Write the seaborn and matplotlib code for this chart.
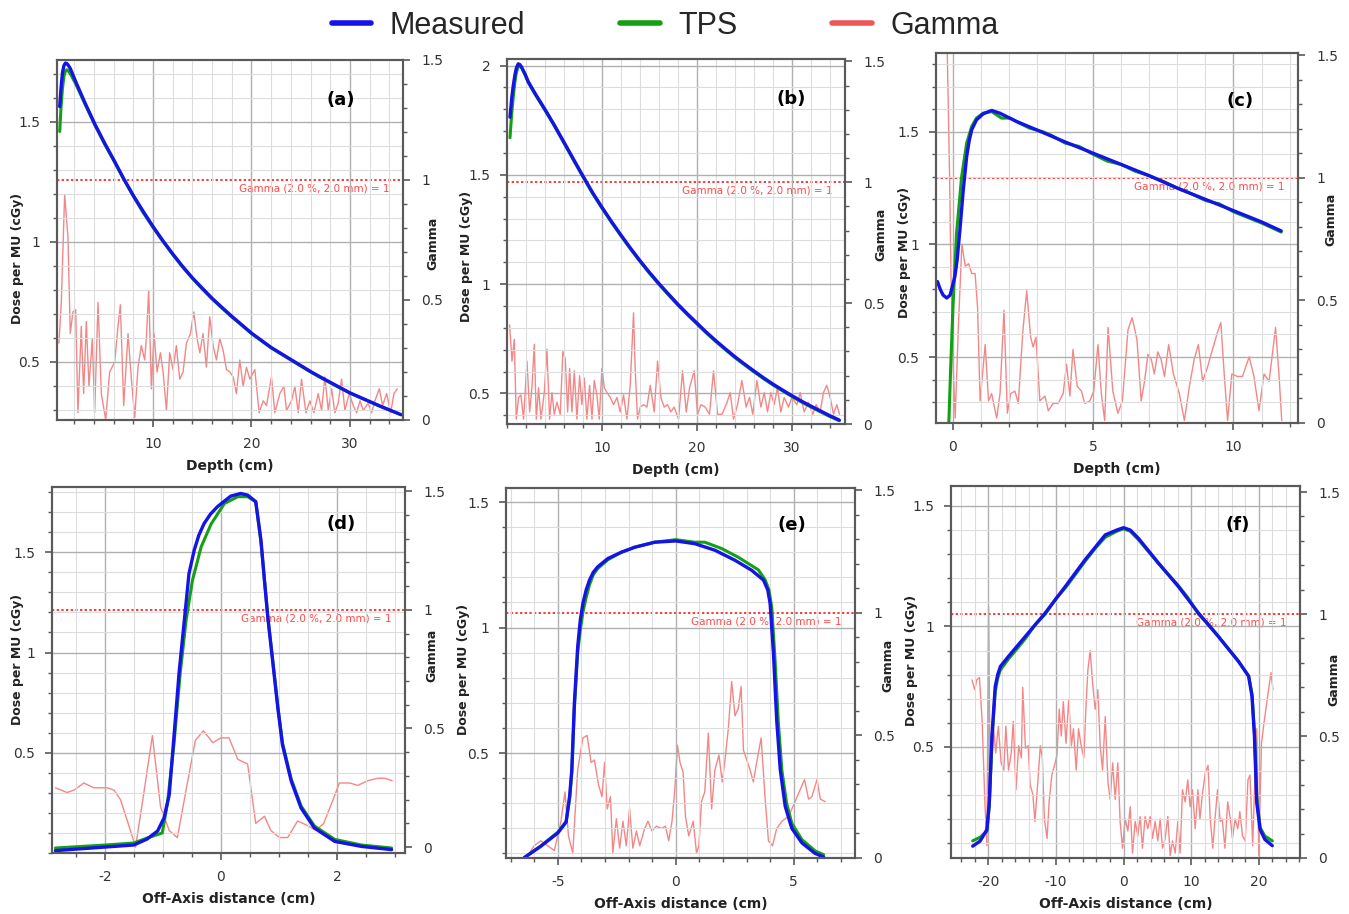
import matplotlib
matplotlib.use("Agg")
import matplotlib.pyplot as plt
import matplotlib.transforms as mtrans
from matplotlib.lines import Line2D
from matplotlib.ticker import MultipleLocator, FixedLocator, FuncFormatter
import seaborn as sns

# ---------------- data ----------------
# (a) PDD, depth in cm
a_x = [0.52, 0.65, 0.8, 0.95, 1.1, 1.25, 1.4, 1.6, 2.1, 3.1, 4.1, 5.1, 6.1, 7.0, 8, 9, 10, 11, 12,
       13, 14, 15, 16, 17, 18, 19, 20, 21, 22, 23, 24, 25, 26, 27, 28, 29, 30, 31, 32, 33, 34, 35.2]
a_meas = [1.564, 1.64, 1.705, 1.735, 1.745, 1.743, 1.735, 1.722, 1.672, 1.578, 1.49, 1.41, 1.335,
          1.265, 1.193, 1.127, 1.064, 1.005, 0.95, 0.898, 0.85, 0.807, 0.765, 0.727, 0.69, 0.655,
          0.62, 0.59, 0.56, 0.535, 0.51, 0.485, 0.46, 0.437, 0.415, 0.393, 0.371, 0.353, 0.335,
          0.317, 0.30, 0.28]
a_tps = [1.46, 1.56, 1.64, 1.69, 1.712, 1.717, 1.712, 1.70, 1.662, 1.573, 1.486, 1.406, 1.332,
         1.262, 1.19, 1.122, 1.06, 1.002, 0.947, 0.895, 0.848, 0.804, 0.762, 0.724, 0.687, 0.653,
         0.618, 0.588, 0.558, 0.533, 0.508, 0.483, 0.458, 0.435, 0.413, 0.391, 0.37, 0.352, 0.334,
         0.316, 0.30, 0.28]
a_gx = [0.44, 0.68, 1.02, 1.36, 1.59, 1.86, 2.14, 2.37, 2.71, 2.95,
        3.22, 3.49, 3.83, 4.07, 4.41, 4.75, 5.19, 5.59, 6.10, 6.44,
        6.68, 7.02, 7.46, 7.80, 8.14, 8.47, 8.81, 9.15, 9.32, 9.56,
        9.83, 10.10, 10.41, 10.75, 11.02, 11.36, 11.69, 12.03, 12.37, 12.71,
        13.05, 13.39, 13.80, 14.14, 14.47, 14.75, 15.08, 15.42, 15.76, 16.10,
        16.44, 16.78, 17.12, 17.46, 17.80, 18.14, 18.47, 18.81, 19.15, 19.49,
        19.83, 20.34, 20.78, 21.19, 21.53, 22.03, 22.37, 22.88, 23.29, 23.56,
        24.07, 24.41, 24.75, 25.08, 25.53, 25.93, 26.34, 26.78, 27.12, 27.46,
        27.80, 28.14, 28.47, 28.81, 29.15, 29.49, 29.93, 30.34, 30.68, 31.02,
        31.36, 31.86, 32.20, 32.54, 32.98, 33.32, 33.73, 34.14, 34.47, 34.81]
a_gamma = [0.32, 0.49, 0.94, 0.76, 0.36, 0.45, 0.46, 0.03, 0.39, 0.11,
           0.41, 0.14, 0.34, 0.03, 0.49, 0.11, 0.00, 0.20, 0.24, 0.39,
           0.48, 0.06, 0.36, 0.17, 0.01, 0.22, 0.31, 0.25, 0.34, 0.54,
           0.13, 0.36, 0.20, 0.28, 0.20, 0.04, 0.28, 0.21, 0.31, 0.17,
           0.20, 0.32, 0.36, 0.45, 0.34, 0.28, 0.36, 0.22, 0.43, 0.31,
           0.25, 0.34, 0.29, 0.21, 0.20, 0.18, 0.11, 0.25, 0.14, 0.22,
           0.17, 0.21, 0.03, 0.08, 0.06, 0.18, 0.03, 0.11, 0.14, 0.04,
           0.08, 0.14, 0.03, 0.17, 0.03, 0.08, 0.03, 0.11, 0.04, 0.18,
           0.04, 0.13, 0.03, 0.07, 0.17, 0.04, 0.11, 0.06, 0.03, 0.08,
           0.04, 0.07, 0.03, 0.08, 0.13, 0.06, 0.11, 0.03, 0.11, 0.13]

# (b) PDD
b_x = [0.32, 0.5, 0.67, 0.85, 1.0, 1.19, 1.35, 1.54, 1.9, 2.25, 3, 4, 5, 6, 7, 8, 9, 10, 11, 12,
       13, 14, 15, 16, 17, 18, 19, 20, 21, 22, 23, 24, 25, 26, 27, 28, 29, 30, 31, 32, 33, 34, 35]
b_meas = [1.764, 1.85, 1.91, 1.96, 1.99, 2.008, 2.005, 1.993, 1.962, 1.926, 1.87, 1.80, 1.727,
          1.65, 1.572, 1.495, 1.42, 1.352, 1.287, 1.225, 1.165, 1.108, 1.054, 1.003, 0.955, 0.908,
          0.864, 0.822, 0.78, 0.741, 0.704, 0.668, 0.635, 0.603, 0.572, 0.543, 0.516, 0.49, 0.465,
          0.442, 0.42, 0.398, 0.378]
b_tps = [1.67, 1.78, 1.86, 1.93, 1.97, 1.995, 2.0, 1.99, 1.958, 1.922, 1.866, 1.796, 1.723, 1.646,
         1.568, 1.491, 1.416, 1.348, 1.283, 1.221, 1.161, 1.104, 1.05, 0.999, 0.951, 0.904, 0.86,
         0.818, 0.776, 0.737, 0.7, 0.664, 0.631, 0.599, 0.568, 0.539, 0.512, 0.486, 0.461, 0.438,
         0.416, 0.394, 0.375]
b_gx = [0.28, 0.53, 0.77, 0.98, 1.23, 1.47, 1.75, 2.11, 2.39, 2.63,
        2.88, 3.09, 3.33, 3.58, 3.93, 4.21, 4.49, 4.74, 4.98, 5.26,
        5.61, 5.89, 6.14, 6.39, 6.60, 6.84, 7.09, 7.37, 7.65, 7.89,
        8.14, 8.42, 8.70, 8.95, 9.19, 9.47, 9.72, 10.0, 10.25, 10.53,
        10.88, 11.23, 11.58, 11.93, 12.28, 12.63, 12.98, 13.33, 13.51, 13.75,
        14.04, 14.39, 14.74, 15.09, 15.51, 15.86, 16.21, 16.56, 16.91, 17.26,
        17.61, 18.07, 18.49, 18.88, 19.23, 19.72, 20.07, 20.42, 20.88, 21.33,
        21.75, 22.18, 22.63, 23.09, 23.51, 23.86, 24.28, 24.74, 25.19, 25.54,
        25.89, 26.32, 26.74, 27.09, 27.44, 27.79, 28.14, 28.49, 28.84, 29.19,
        29.65, 30.0, 30.53, 30.88, 31.30, 31.75, 32.21, 32.56, 32.98, 33.33,
        33.68, 34.04, 34.39, 34.74, 35.02]
b_gamma = [0.41, 0.26, 0.35, 0.02, 0.11, 0.12, 0.02, 0.26, 0.05, 0.15,
           0.33, 0.02, 0.15, 0.02, 0.13, 0.31, 0.02, 0.13, 0.04, 0.09,
           0.04, 0.30, 0.27, 0.05, 0.23, 0.05, 0.22, 0.02, 0.20, 0.08,
           0.19, 0.02, 0.16, 0.02, 0.18, 0.12, 0.02, 0.23, 0.15, 0.13,
           0.11, 0.08, 0.11, 0.05, 0.12, 0.02, 0.16, 0.46, 0.22, 0.02,
           0.07, 0.08, 0.07, 0.16, 0.05, 0.26, 0.11, 0.07, 0.08, 0.05,
           0.07, 0.02, 0.22, 0.05, 0.15, 0.22, 0.04, 0.08, 0.07, 0.04,
           0.22, 0.04, 0.04, 0.08, 0.13, 0.02, 0.08, 0.18, 0.07, 0.11,
           0.04, 0.18, 0.07, 0.13, 0.05, 0.13, 0.08, 0.15, 0.05, 0.11,
           0.07, 0.11, 0.08, 0.13, 0.05, 0.09, 0.04, 0.08, 0.05, 0.13,
           0.16, 0.11, 0.04, 0.08, 0.04]

# (c) PDD, shallow
c_x = [-0.55, -0.45, -0.35, -0.22, -0.1, 0.07, 0.15, 0.25, 0.37, 0.49, 0.58, 0.67, 0.84, 1.08,
       1.38, 1.67, 2.27, 2.98, 4, 5, 6, 7, 8, 9, 10, 11, 11.7]
c_meas = [0.835, 0.80, 0.775, 0.762, 0.775, 0.857, 0.93, 1.064, 1.242, 1.39, 1.46, 1.509, 1.553,
          1.58, 1.595, 1.583, 1.546, 1.509, 1.455, 1.405, 1.355, 1.305, 1.25, 1.20, 1.15, 1.10, 1.06]
c_tps_x = [-0.15, -0.08, 0.0, 0.13, 0.31, 0.49, 0.67, 0.84, 1.08, 1.38, 1.73, 2.03, 2.38, 2.74,
           3.21, 3.5, 4.0, 4.5, 5.0, 5.5, 6.0, 6.5, 7, 7.5, 8, 8.5, 9, 9.5, 10, 10.5, 11, 11.7]
c_tps = [0.19, 0.45, 0.72, 1.05, 1.30, 1.45, 1.524, 1.561, 1.583, 1.59, 1.561, 1.561, 1.538, 1.516,
         1.50, 1.485, 1.45, 1.435, 1.40, 1.37, 1.355, 1.325, 1.305, 1.28, 1.25, 1.225, 1.195, 1.18,
         1.145, 1.12, 1.095, 1.055]
c_gx = [-0.24, -0.12, -0.07, 0.02, 0.08, 0.20, 0.32, 0.44, 0.56, 0.67,
        0.79, 0.88, 0.97, 1.15, 1.27, 1.38, 1.56, 1.68, 1.82, 1.94,
        2.06, 2.21, 2.33, 2.49, 2.63, 2.77, 2.86, 2.96, 3.10, 3.28,
        3.40, 3.57, 3.75, 3.93, 4.05, 4.17, 4.28, 4.43, 4.58, 4.70,
        4.88, 5.02, 5.17, 5.29, 5.41, 5.53, 5.70, 5.88, 6.04, 6.24,
        6.39, 6.56, 6.71, 6.83, 6.95, 7.07, 7.18, 7.30, 7.42, 7.54,
        7.69, 7.86, 8.07, 8.25, 8.43, 8.60, 8.75, 8.90, 9.08, 9.25,
        9.43, 9.55, 9.67, 9.79, 9.94, 10.14, 10.32, 10.56, 10.73, 10.91,
        11.09, 11.27, 11.50, 11.62, 11.72]
c_gamma = [1.75, 1.02, 0.61, 0.20, 0.02, 0.41, 0.73, 0.64, 0.65, 0.61,
           0.61, 0.47, 0.09, 0.32, 0.09, 0.12, 0.02, 0.12, 0.46, 0.04,
           0.12, 0.13, 0.08, 0.37, 0.54, 0.35, 0.31, 0.35, 0.09, 0.11,
           0.05, 0.08, 0.08, 0.12, 0.24, 0.11, 0.30, 0.15, 0.13, 0.08,
           0.09, 0.13, 0.32, 0.12, 0.01, 0.39, 0.13, 0.04, 0.09, 0.38,
           0.43, 0.34, 0.09, 0.17, 0.28, 0.26, 0.20, 0.29, 0.26, 0.19,
           0.32, 0.20, 0.12, 0.01, 0.15, 0.26, 0.32, 0.17, 0.23, 0.30,
           0.37, 0.41, 0.20, 0.01, 0.20, 0.19, 0.19, 0.27, 0.19, 0.05,
           0.20, 0.17, 0.39, 0.20, 0.01]

# (d) small-field profile, off-axis in cm
d_x = [-2.85, -1.99, -1.50, -1.27, -1.09, -0.98, -0.89, -0.81, -0.72, -0.63, -0.55, -0.46, -0.38,
       -0.29, -0.18, -0.06, 0.06, 0.17, 0.34, 0.46, 0.60, 0.69, 0.75, 0.81, 0.89, 0.98, 1.06, 1.21,
       1.38, 1.61, 1.96, 2.42, 2.94]
d_meas = [0.012, 0.03, 0.04, 0.07, 0.11, 0.175, 0.29, 0.575, 0.90, 1.16, 1.393, 1.51, 1.585, 1.643,
          1.69, 1.727, 1.755, 1.78, 1.793, 1.785, 1.752, 1.56, 1.36, 1.17, 0.96, 0.725, 0.54, 0.36,
          0.225, 0.125, 0.058, 0.033, 0.017]
d_tps_x = [-2.85, -1.99, -1.50, -1.27, -1.01, -0.92, -0.81, -0.70, -0.60, -0.49, -0.34, -0.17,
           0.06, 0.29, 0.46, 0.60, 0.69, 0.75, 0.81, 0.89, 0.98, 1.06, 1.21, 1.38, 1.61, 1.96,
           2.42, 2.94]
d_tps = [0.025, 0.04, 0.05, 0.075, 0.10, 0.25, 0.54, 0.90, 1.16, 1.36, 1.527, 1.64, 1.743, 1.777,
         1.777, 1.752, 1.55, 1.36, 1.17, 0.97, 0.73, 0.55, 0.37, 0.235, 0.135, 0.068, 0.04, 0.025]
d_gx = [-2.85, -2.65, -2.53, -2.36, -2.19, -1.96, -1.84, -1.73, -1.61, -1.47,
        -1.32, -1.18, -1.04, -0.89, -0.75, -0.60, -0.44, -0.30, -0.14, 0.0,
        0.14, 0.29, 0.46, 0.60, 0.75, 0.86, 1.01, 1.15, 1.32, 1.50,
        1.64, 1.77, 1.90, 2.04, 2.22, 2.36, 2.53, 2.70, 2.82, 2.95]
d_gamma = [0.25, 0.23, 0.24, 0.27, 0.25, 0.25, 0.24, 0.20, 0.11, 0.0,
           0.24, 0.47, 0.17, 0.07, 0.04, 0.24, 0.45, 0.49, 0.44, 0.46,
           0.46, 0.37, 0.35, 0.10, 0.13, 0.07, 0.04, 0.04, 0.11, 0.09,
           0.07, 0.10, 0.18, 0.27, 0.27, 0.26, 0.28, 0.29, 0.29, 0.28]

# (e) medium-field profile
e_x = [-6.43, -5.72, -5.0, -4.65, -4.5, -4.41, -4.30, -4.16, -4.05, -3.94, -3.8, -3.66, -3.5, -3.31,
       -2.88, -2.31, -1.74, -0.89, 0, 0.81, 1.66, 2.51, 3.22, 3.72, 3.9, 4.0, 4.14, 4.28, 4.43,
       4.64, 4.92, 5.35, 5.91, 6.27]
e_meas = [0.083, 0.129, 0.182, 0.225, 0.33, 0.434, 0.70, 0.924, 1.03, 1.096, 1.15, 1.189, 1.22,
          1.242, 1.275, 1.30, 1.32, 1.34, 1.345, 1.334, 1.308, 1.268, 1.228, 1.189, 1.15, 1.096,
          0.90, 0.63, 0.434, 0.288, 0.20, 0.142, 0.10, 0.086]
e_tps_x = [-6.43, -5.72, -5.0, -4.65, -4.5, -4.41, -4.30, -4.16, -4.05, -3.94, -3.8, -3.66, -3.5,
           -3.31, -2.88, -2.31, -1.74, -0.89, 0, 0.81, 1.23, 1.94, 2.65, 3.5, 3.79, 3.95, 4.07,
           4.21, 4.35, 4.5, 4.7, 4.92, 5.35, 5.91, 6.27]
e_tps = [0.083, 0.13, 0.185, 0.228, 0.32, 0.42, 0.68, 0.90, 0.99, 1.06, 1.12, 1.17, 1.21, 1.235,
         1.27, 1.30, 1.32, 1.34, 1.35, 1.34, 1.34, 1.315, 1.28, 1.23, 1.19, 1.15, 1.08, 0.87,
         0.62, 0.43, 0.30, 0.22, 0.155, 0.11, 0.095]
e_gx = [-6.28, -6.00, -5.72, -5.43, -5.15, -4.87, -4.70, -4.55, -4.37, -4.16,
        -3.94, -3.76, -3.59, -3.45, -3.28, -3.13, -3.02, -2.91, -2.77, -2.67,
        -2.52, -2.38, -2.24, -2.10, -1.96, -1.82, -1.67, -1.53, -1.32, -1.18,
        -1.01, -0.82, -0.61, -0.44, -0.30, -0.16, -0.04, 0.07, 0.18, 0.31,
        0.41, 0.55, 0.74, 0.88, 0.98, 1.09, 1.23, 1.38, 1.52, 1.66,
        1.83, 1.97, 2.11, 2.23, 2.37, 2.51, 2.65, 2.77, 2.87, 3.01,
        3.15, 3.29, 3.43, 3.62, 3.79, 3.93, 4.10, 4.28, 4.50, 4.78,
        5.06, 5.28, 5.46, 5.63, 5.77, 5.99, 6.13, 6.34]
e_gamma = [0.01, 0.05, 0.07, 0.05, 0.03, 0.15, 0.27, 0.09, 0.02, 0.36,
           0.49, 0.50, 0.39, 0.40, 0.30, 0.25, 0.39, 0.20, 0.25, 0.02,
           0.16, 0.04, 0.15, 0.05, 0.20, 0.04, 0.11, 0.05, 0.12, 0.15,
           0.11, 0.13, 0.12, 0.13, 0.07, 0.15, 0.28, 0.46, 0.39, 0.35,
           0.17, 0.09, 0.15, 0.02, 0.05, 0.23, 0.27, 0.51, 0.20, 0.36,
           0.42, 0.31, 0.42, 0.53, 0.72, 0.58, 0.61, 0.70, 0.44, 0.40,
           0.36, 0.31, 0.39, 0.49, 0.24, 0.07, 0.05, 0.12, 0.15, 0.17,
           0.23, 0.28, 0.32, 0.24, 0.25, 0.32, 0.24, 0.23]

# (f) large-field profile
f_x = [-22.3, -21.2, -20.2, -19.85, -19.46, -18.97, -18.6, -18.2, -17, -14.5, -11.6, -8.6, -5.7,
       -2.7, -1.0, 0, 1.0, 2.2, 5.2, 8.1, 11.1, 14.0, 17.0, 18.5, 19.0, 19.36, 19.7, 20.2, 20.9,
       22.0]
f_meas = [0.088, 0.109, 0.157, 0.268, 0.544, 0.75, 0.80, 0.834, 0.876, 0.959, 1.055, 1.166, 1.276,
          1.38, 1.40, 1.41, 1.40, 1.366, 1.262, 1.166, 1.055, 0.959, 0.855, 0.793, 0.71, 0.544,
          0.268, 0.157, 0.116, 0.09]
f_tps_x = [-22.3, -21.2, -20.2, -19.85, -19.46, -18.97, -18.6, -18.2, -17, -15.8, -14.5, -13, -11.6,
           -10, -8.6, -7, -5.7, -4, -2.7, -1.0, 0, 1.0, 2.2, 5.2, 8.1, 9.5, 11.1, 12.5, 14.0, 17.0,
           18.5, 19.0, 19.36, 19.7, 20.2, 20.9, 22.0]
f_tps = [0.11, 0.125, 0.15, 0.25, 0.52, 0.73, 0.785, 0.82, 0.865, 0.905, 0.95, 1.01, 1.05, 1.115,
         1.16, 1.22, 1.27, 1.33, 1.37, 1.395, 1.405, 1.395, 1.36, 1.26, 1.17, 1.12, 1.05, 1.01,
         0.96, 0.855, 0.795, 0.72, 0.56, 0.29, 0.165, 0.13, 0.11]
f_gx = [-22.4, -22.0, -21.7, -21.3, -20.9, -20.5, -20.2, -19.95, -19.7, -19.2,
        -18.9, -18.5, -18.1, -17.7, -17.4, -17.0, -16.6, -16.3, -15.9, -15.5,
        -15.1, -14.9, -14.5, -14.1, -13.8, -13.4, -13.1, -12.7, -12.3, -12.0,
        -11.7, -11.3, -11.0, -10.6, -10.2, -9.85, -9.5, -9.2, -8.9, -8.5,
        -8.1, -7.7, -7.4, -7.0, -6.65, -6.26, -5.86, -5.57, -5.27, -4.93,
        -4.58, -4.19, -3.8, -3.45, -3.1, -2.7, -2.3, -1.97, -1.6, -1.23,
        -0.84, -0.5, -0.15, 0.25, 0.64, 0.99, 1.33, 1.72, 2.12, 2.46,
        2.8, 3.2, 3.6, 3.94, 4.29, 4.68, 5.07, 5.42, 5.76, 6.16,
        6.55, 6.9, 7.24, 7.64, 8.03, 8.37, 8.72, 9.11, 9.5, 9.85,
        10.2, 10.6, 11.0, 11.3, 11.7, 12.1, 12.5, 12.8, 13.2, 13.5,
        13.9, 14.3, 14.6, 15.0, 15.4, 15.8, 16.1, 16.5, 16.9, 17.2,
        17.6, 18.0, 18.4, 18.7, 19.1, 19.4, 19.7, 20.0, 20.4, 20.8,
        21.2, 21.5, 21.8, 22.1]
f_gamma = [0.73, 0.69, 0.73, 0.74, 0.56, 0.23, 0.05, 1.03, 0.26, 0.53,
           0.43, 0.54, 0.39, 0.36, 0.54, 0.36, 0.43, 0.56, 0.28, 0.46,
           0.41, 0.70, 0.45, 0.46, 0.30, 0.26, 0.15, 0.30, 0.46, 0.41,
           0.16, 0.08, 0.23, 0.34, 0.38, 0.42, 0.61, 0.50, 0.64, 0.47,
           0.65, 0.46, 0.53, 0.36, 0.53, 0.46, 0.41, 0.61, 0.77, 0.85,
           0.72, 0.61, 0.69, 0.46, 0.36, 0.58, 0.31, 0.24, 0.39, 0.24,
           0.39, 0.15, 0.04, 0.16, 0.11, 0.21, 0.02, 0.15, 0.09, 0.17,
           0.04, 0.17, 0.12, 0.17, 0.08, 0.15, 0.07, 0.16, 0.04, 0.08,
           0.17, 0.01, 0.07, 0.02, 0.15, 0.02, 0.28, 0.23, 0.32, 0.21,
           0.28, 0.12, 0.28, 0.16, 0.27, 0.35, 0.38, 0.17, 0.04, 0.15,
           0.28, 0.15, 0.16, 0.04, 0.23, 0.16, 0.08, 0.16, 0.12, 0.19,
           0.09, 0.07, 0.32, 0.34, 0.05, 0.31, 0.53, 0.01, 0.47, 0.56,
           0.64, 0.70, 0.76, 0.69]

series_names = ["Measured", "TPS", "Gamma"]
gamma_note = "Gamma (2.0 %, 2.0 mm) = 1"

# ---------------- layout / styling ----------------
BLUE, GREEN, RED, RED_DOT = "#1414e6", "#14a014", "#f27272", "#ff3a3a"

panels = [
    dict(tag="(a)", rect=[0.0423, 0.5405, 0.2565, 0.3939], xlim=(0.25, 35.4), ylim=(0.258, 1.758),
         glim=(0, 1.5), xt=[10, 20, 30], xminor=2, yt=[0.5, 1, 1.5], xlabel="Depth (cm)",
         meas=(a_x, a_meas), tps=(a_x, a_tps), gam=(a_gx, a_gamma), tagpos=(0.82, 0.89),
         lab=(-0.095, 0.45, 1.066, 0.49)),
    dict(tag="(b)", rect=[0.3758, 0.5361, 0.2506, 0.3993], xlim=(0.0, 35.6), ylim=(0.36, 2.03),
         glim=(0, 1.51), xt=[10, 20, 30], xminor=2, yt=[0.5, 1, 1.5, 2], xlabel="Depth (cm)",
         meas=(b_x, b_meas), tps=(b_x, b_tps), gam=(b_gx, b_gamma), tagpos=(0.84, 0.89),
         lab=(-0.10, 0.46, 1.086, 0.52)),
    dict(tag="(c)", rect=[0.6939, 0.5372, 0.2683, 0.4048], xlim=(-0.6, 12.3), ylim=(0.207, 1.85),
         glim=(0, 1.51), xt=[0, 5, 10], xminor=1, yt=[0.5, 1, 1.5], xlabel="Depth (cm)",
         meas=(c_x, c_meas), tps=(c_tps_x, c_tps), gam=(c_gx, c_gamma), tagpos=(0.84, 0.87),
         lab=(-0.069, 0.46, 1.072, 0.55)),
    dict(tag="(d)", rect=[0.0385, 0.0667, 0.2617, 0.4004], xlim=(-2.91, 3.17), ylim=(0.0, 1.825),
         glim=(-0.025, 1.517), xt=[-2, 0, 2], xminor=0.5, yt=[0.5, 1, 1.5],
         xlabel="Off-Axis distance (cm)",
         meas=(d_x, d_meas), tps=(d_tps_x, d_tps), gam=(d_gx, d_gamma), tagpos=(0.82, 0.90),
         lab=(-0.079, 0.53, 1.059, 0.54)),
    dict(tag="(e)", rect=[0.3751, 0.0613, 0.2587, 0.4048], xlim=(-7.2, 7.6), ylim=(0.082, 1.556),
         glim=(0, 1.51), xt=[-5, 0, 5], xminor=1, yt=[0.5, 1, 1.5],
         xlabel="Off-Axis distance (cm)",
         meas=(e_x, e_meas), tps=(e_tps_x, e_tps), gam=(e_gx, e_gamma), tagpos=(0.82, 0.90),
         lab=(-0.103, 0.51, 1.077, 0.52)),
    dict(tag="(f)", rect=[0.7050, 0.0613, 0.2587, 0.4070], xlim=(-25.5, 26.1), ylim=(0.039, 1.583),
         glim=(0, 1.525), xt=[-20, -10, 0, 10, 20], xminor=2, yt=[0.5, 1, 1.5],
         xlabel="Off-Axis distance (cm)",
         meas=(f_x, f_meas), tps=(f_tps_x, f_tps), gam=(f_gx, f_gamma), tagpos=(0.82, 0.895),
         lab=(-0.095, 0.53, 1.077, 0.48)),
]

sns.set_theme(style="white")
plt.rcParams["font.family"] = ["DejaVu Sans"]

fig = plt.figure(figsize=(13.49, 9.14), dpi=100)
fmt = FuncFormatter(lambda v, p: f"{v:g}")

for p in panels:
    ax = fig.add_axes(p["rect"])
    ax2 = ax.twinx()
    # dose axes drawn above the gamma axes
    ax.set_zorder(ax2.get_zorder() + 1)
    ax.patch.set_visible(False)

    sns.lineplot(x=p["gam"][0], y=p["gam"][1], ax=ax2, color=RED, lw=1.0, alpha=0.85,
                 estimator=None, sort=False)
    ax2.axhline(1, color=RED_DOT, ls=(0, (1.2, 1.2)), lw=1.4)
    trans = mtrans.blended_transform_factory(ax2.transAxes, ax2.transData)
    ax2.text(0.962, 0.985, gamma_note, transform=trans, ha="right", va="top",
             color="#ff4a4a", fontsize=7.5)

    sns.lineplot(x=p["tps"][0], y=p["tps"][1], ax=ax, color=GREEN, lw=2.2,
                 estimator=None, sort=False)
    sns.lineplot(x=p["meas"][0], y=p["meas"][1], ax=ax, color=BLUE, lw=2.4,
                 estimator=None, sort=False)

    ax.set_xlim(*p["xlim"])
    ax.set_ylim(*p["ylim"])
    ax2.set_ylim(*p["glim"])

    ax.xaxis.set_major_locator(FixedLocator(p["xt"]))
    ax.xaxis.set_minor_locator(MultipleLocator(p["xminor"]))
    ax.yaxis.set_major_locator(FixedLocator(p["yt"]))
    ax.yaxis.set_minor_locator(MultipleLocator(0.1))
    ax.xaxis.set_major_formatter(fmt)
    ax.yaxis.set_major_formatter(fmt)
    ax2.yaxis.set_major_locator(FixedLocator([0, 0.5, 1, 1.5]))
    ax2.yaxis.set_minor_locator(MultipleLocator(0.1))
    ax2.yaxis.set_major_formatter(fmt)

    ax.grid(which="major", color="#b0b0b0", lw=1.0)
    ax.grid(which="minor", color="#dddddd", lw=0.8)
    ax.set_axisbelow(True)

    for a in (ax, ax2):
        for s in a.spines.values():
            s.set_color("#5a5a5a")
            s.set_linewidth(1.5)
    ax.tick_params(which="both", direction="out", color="#5a5a5a", left=True, bottom=True)
    ax.tick_params(which="major", length=5, width=1.2, labelsize=10, labelcolor="#333333", pad=7)
    ax.tick_params(which="minor", length=3, width=1.0)
    ax2.tick_params(which="both", direction="out", color="#5a5a5a", right=True)
    ax2.tick_params(which="major", length=5, width=1.2, labelsize=10, labelcolor="#333333", pad=8)
    ax2.tick_params(which="minor", length=3, width=1.0)

    ax.set_xlabel(p["xlabel"], fontsize=10, fontweight="bold", color="#222222", labelpad=6)
    ax.set_ylabel("Dose per MU (cGy)", fontsize=9, fontweight="bold", color="#222222")
    ax2.set_ylabel("Gamma", fontsize=9, fontweight="bold", color="#222222")
    lx, ly, rx, ry = p["lab"]
    ax.yaxis.set_label_coords(lx, ly)
    ax2.yaxis.set_label_coords(rx, ry)

    ax.text(p["tagpos"][0], p["tagpos"][1], p["tag"], transform=ax.transAxes, ha="center",
            va="center", fontsize=13, fontweight="bold", color="black")

handles = [Line2D([], [], color=c, lw=4) for c in (BLUE, GREEN, "#ee5555")]
fig.legend(handles, series_names, loc="upper center", bbox_to_anchor=(0.493, 1.018), ncol=3,
           frameon=False, handlelength=1.3, handletextpad=0.6, columnspacing=3.1,
           prop={"family": ["Liberation Sans", "DejaVu Sans"], "size": 22})

fig.savefig("out.png", dpi=100)
